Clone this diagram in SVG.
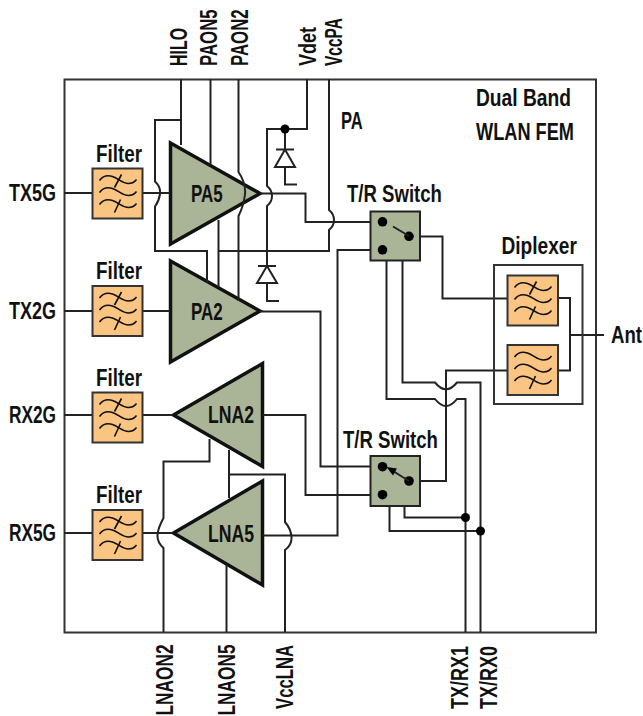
<svg xmlns="http://www.w3.org/2000/svg" width="643" height="716" viewBox="0 0 643 716">
<style>
text{font-family:"Liberation Sans",Arial,sans-serif;font-weight:700;font-size:24px;fill:#111}
.w{fill:none;stroke:#222;stroke-width:2}
.t{fill:#aab598;stroke:#111;stroke-width:3.5;stroke-linejoin:miter}
.sw{fill:#aab598;stroke:#222;stroke-width:2}
.f{fill:#fac482;stroke:#333;stroke-width:2}
.g{fill:none;stroke:#111;stroke-width:1.6}
.d{fill:#000}
.di{fill:#fff;stroke:#222;stroke-width:2}
</style>
<defs>
<g id="wig"><path class="g" d="M7 12C10 8 14 6 20 8S30 15 36 15S42 13 44 11M7 24C10 20 14 18 20 20S30 27 36 27S42 25 44 23M7 36C10 32 14 30 20 32S30 39 36 39S42 37 44 35"/></g>
<g id="x1"><path class="g" d="M29 6L22 19M28 31L22 44"/></g>
</defs>
<rect id="frame" x="64.500" y="79.500" width="531.500" height="553" fill="#fff" stroke="#333" stroke-width="2"/>
<g id="triangles">
<polygon id="PA5" class="t" points="170.500,143 260,193.500 170.500,244"/>
<polygon id="PA2" class="t" points="170.500,261 260,311 170.500,362"/>
<polygon id="LNA2" class="t" points="173.500,415 262.500,363.500 262.500,466.500"/>
<polygon id="LNA5" class="t" points="173.500,533 262.500,481 262.500,585"/>
</g>
<g id="connectors">
<path class="w" d="M64 193H92M143 193H170M64 311H92M143 311H170M64 415H92M143 415H173M64 533H92M143 533H173"/>
<path class="w" d="M181 79V145M181 120H155V181.500Q161 187 160 194T155 206.500V251H207V283"/>
<path class="w" d="M210.500 79V165"/>
<path class="w" d="M238.500 79V172Q246 183 245 194T238.500 216V301"/>
<path class="w" d="M218.500 220V287M218.500 251H329V230Q334 226 334 220T329 210V79"/>
<path class="w" d="M307 79V129H267V186Q272 190 272 196T267 206V266"/>
<path class="w" d="M285 129V149M285 167V184.500H297"/>
<path class="w" d="M267 283V301H279"/>
<path class="w" d="M260 193.500H305.500V222H370"/>
<path class="w" d="M260 311.500H320.500V466.500H382"/>
<path class="w" d="M263 415H305.500V495H382"/>
<path class="w" d="M263 535.500H337.500V250H382"/>
<path class="w" d="M409 236.500H442.500V298.500H507"/>
<path class="w" d="M409 481H446V370.500H507"/>
<path class="w" d="M402.500 260V382.500H435Q446 396 457 382.500H480.500V632"/>
<path class="w" d="M386.500 260V399H435Q446 413 457 399H465.500V632"/>
<path class="w" d="M404.500 506V517.500H465.500M389.500 506V531H480.500"/>
<path class="w" d="M558 298H570V370.500H558M570 335H604"/>
<path class="w" d="M163.500 632V548Q157 542 157.500 535T163.500 518V461.500H209.500V439"/>
<path class="w" d="M226.500 632V565"/>
<path class="w" d="M285 632V550Q292 545 291.500 537T285 522V474.500H229V450V498"/>
</g>
<g id="diode1"><path class="w" d="M276 149.500H294"/><polygon class="di" points="285,149.500 275,167 295,167"/></g>
<g id="diode2"><path class="w" d="M258 266H276"/><polygon class="di" points="267,266 257,283 277,283"/></g>
<circle class="d" cx="285" cy="129" r="4.500"/>
<circle class="d" cx="465.500" cy="517.500" r="4.500"/>
<circle class="d" cx="480.500" cy="531" r="4.500"/>
<g id="filter-tx5g"><rect class="f" x="92.500" y="168.500" width="50" height="50"/><use href="#wig" x="92.500" y="168.500"/><use href="#x1" x="92.500" y="168.500"/></g>
<g id="filter-tx2g"><rect class="f" x="92.500" y="286" width="50" height="50"/><use href="#wig" x="92.500" y="286"/><use href="#x1" x="92.500" y="286"/></g>
<g id="filter-rx2g"><rect class="f" x="92.500" y="392.500" width="50" height="50"/><use href="#wig" x="92.500" y="392.500"/><use href="#x1" x="92.500" y="392.500"/></g>
<g id="filter-rx5g"><rect class="f" x="92.500" y="510" width="50" height="50"/><use href="#wig" x="92.500" y="510"/><use href="#x1" x="92.500" y="510"/></g>
<g id="diplexer"><rect x="494" y="265" width="88.500" height="139" fill="none" stroke="#333" stroke-width="2"/></g>
<g id="filter-d1"><rect class="f" x="507.500" y="275.500" width="50.500" height="50"/><use href="#wig" x="507.500" y="275.500"/><use href="#x1" x="507.500" y="275.500"/></g>
<g id="filter-d2"><rect class="f" x="507.500" y="345" width="50.500" height="50"/><use href="#wig" x="507.500" y="345"/><path class="g" d="M535.500 376L529.500 389"/></g>
<g id="switch1"><rect class="sw" x="370.500" y="211.500" width="49.500" height="49"/>
<circle class="d" cx="382.500" cy="221.800" r="4.800"/><circle class="d" cx="382.500" cy="249.800" r="4.800"/><circle class="d" cx="409" cy="236.300" r="4.800"/>
<path class="w" d="M393 226.500L409 236"/></g>
<g id="switch2"><rect class="sw" x="370.500" y="456" width="49.500" height="50"/>
<circle class="d" cx="382.500" cy="466.700" r="4.800"/><circle class="d" cx="382.500" cy="494.700" r="4.800"/><circle class="d" cx="409" cy="481" r="4.800"/>
<path class="w" d="M393 471L409 481"/><polygon class="d" points="386.500,467 397,468.500 393,475.500"/></g>
<g id="labels">
<text transform="translate(476,106) scale(.8,1)">Dual Band</text>
<text transform="translate(476,140) scale(.758,1)">WLAN FEM</text>
<text transform="translate(341,129) scale(.69,1)">PA</text>
<text transform="translate(96,161.500) scale(.784,1)">Filter</text>
<text transform="translate(96,279) scale(.784,1)">Filter</text>
<text transform="translate(96,385.500) scale(.784,1)">Filter</text>
<text transform="translate(96,502.500) scale(.784,1)">Filter</text>
<text transform="translate(9,201) scale(.75,1)">TX5G</text>
<text transform="translate(9,319) scale(.75,1)">TX2G</text>
<text transform="translate(9,423) scale(.72,1)">RX2G</text>
<text transform="translate(9,541) scale(.72,1)">RX5G</text>
<text transform="translate(191,202) scale(.707,1)">PA5</text>
<text transform="translate(191,320) scale(.707,1)">PA2</text>
<text transform="translate(208,422.500) scale(.734,1)">LNA2</text>
<text transform="translate(208,541.500) scale(.734,1)">LNA5</text>
<text transform="translate(347,201.500) scale(.774,1)">T/R Switch</text>
<text transform="translate(343,448) scale(.774,1)">T/R Switch</text>
<text transform="translate(501.500,254) scale(.797,1)">Diplexer</text>
<text transform="translate(611,343) scale(.775,1)">Ant</text>
<text transform="translate(186.500,66) rotate(-90) scale(.663,1)">HILO</text>
<text transform="translate(217,66) rotate(-90) scale(.7,1)">PAON5</text>
<text transform="translate(248,66) rotate(-90) scale(.7,1)">PAON2</text>
<text transform="translate(316,66) rotate(-90) scale(.75,1)">Vdet</text>
<text transform="translate(342,66) rotate(-90) scale(.645,1)">VccPA</text>
<text transform="translate(173,715.500) rotate(-90) scale(.72,1)">LNAON2</text>
<text transform="translate(235,715.500) rotate(-90) scale(.72,1)">LNAON5</text>
<text transform="translate(293,709) rotate(-90) scale(.696,1)">VccLNA</text>
<text transform="translate(468,709) rotate(-90) scale(.75,1)">TX/RX1</text>
<text transform="translate(497,709) rotate(-90) scale(.75,1)">TX/RX0</text>
</g>
</svg>
